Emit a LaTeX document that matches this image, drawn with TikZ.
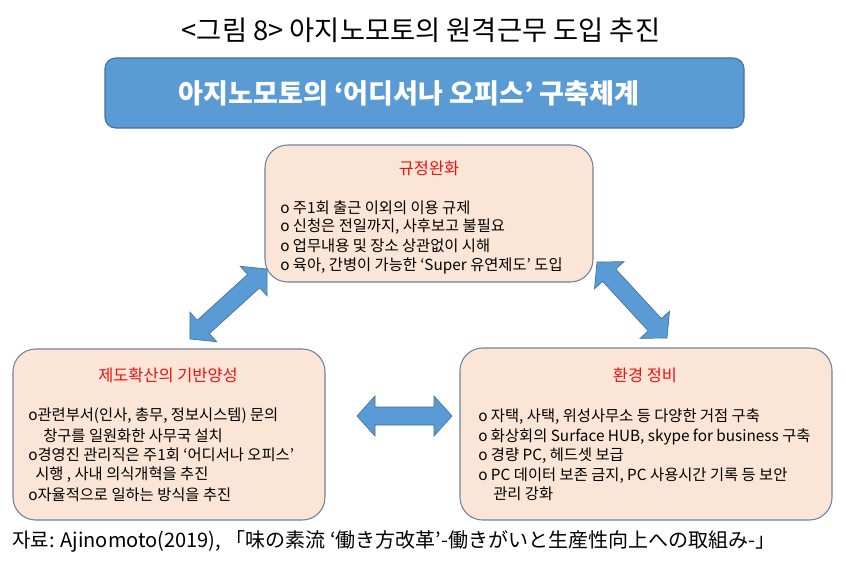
\documentclass[tikz,border=0pt]{standalone}
\usepackage{fontspec}
\setmainfont{Noto Sans CJK KR}
\usetikzlibrary{calc}
\definecolor{bannerfill}{HTML}{5B9BD5}
\definecolor{bannerline}{HTML}{41719C}
\definecolor{boxfill}{HTML}{FBE5D6}
\definecolor{boxline}{HTML}{72819C}
\definecolor{titlered}{HTML}{F01010}
\newcommand\blockarrow[2]{%
  \filldraw[fill=bannerfill,draw=bannerline,line width=0.5pt]
    (#1) -- ($(#1)!13.5pt!(#2)!15pt!90:(#2)$) -- ($(#1)!13.5pt!(#2)!6.75pt!90:(#2)$)
    -- ($(#2)!13.5pt!(#1)!6.75pt!-90:(#1)$) -- ($(#2)!13.5pt!(#1)!15pt!-90:(#1)$)
    -- (#2) -- ($(#2)!13.5pt!(#1)!15pt!90:(#1)$) -- ($(#2)!13.5pt!(#1)!6.75pt!90:(#1)$)
    -- ($(#1)!13.5pt!(#2)!6.75pt!-90:(#2)$) -- ($(#1)!13.5pt!(#2)!15pt!-90:(#2)$) -- cycle;}
\tikzset{
  roundbox/.style={draw=boxline, fill=boxfill, line width=0.8pt, rounded corners=17pt, inner sep=0pt},
  boxtitle/.style={text=titlered, font=\fontsize{12.3}{14}\selectfont, inner sep=0pt},
  itemline/.style={anchor=west, font=\fontsize{11.5}{13}\selectfont, inner sep=0pt},
}
\begin{document}
\begin{tikzpicture}[x=0.75pt,y=-0.75pt]
\useasboundingbox (0,0) rectangle (846,569);
\fill[white] (0,0) rectangle (846,569);
% title
\node[inner sep=0pt, font=\fontsize{20.5}{22}\selectfont] (title) at (421,30) {<그림 8> 아지노모토의 원격근무 도입 추진};
% banner
\node[draw=bannerline, fill=bannerfill, line width=0.8pt, rounded corners=8pt, minimum width=479.25pt, minimum height=52.5pt, inner sep=0pt] (banner) at (424.5,93) {};
\node[text=white, font=\fontsize{20.3}{22}\selectfont\bfseries, inner sep=0pt] (bannertext) at (409,93) {아지노모토의 ‘어디서나 오피스’ 구축체계};
% boxes
\node[roundbox, minimum width=246pt, minimum height=102.75pt] (top) at (429,213.5) {};
\node[roundbox, minimum width=234pt, minimum height=128.25pt] (left) at (169,434.5) {};
\node[roundbox, minimum width=279pt, minimum height=129pt] (right) at (646,434) {};
% top box text
\node[boxtitle] (toptitle) at (429,168) {규정완화};
\node[itemline] (t1) at (280,208) {o 주1회 출근 이외의 이용 규제};
\node[itemline] (t2) at (280,227) {o 신청은 전일까지, 사후보고 불필요};
\node[itemline] (t3) at (280,246) {o 업무내용 및 장소 상관없이 시해};
\node[itemline] (t4) at (280,266) {o 육아, 간병이 가능한 ‘Super 유연제도’ 도입};
% left box text
\node[boxtitle] (lefttitle) at (168,375) {제도확산의 기반양성};
\node[itemline] (l1) at (28,416) {o관련부서(인사, 총무, 정보시스템) 문의};
\node[itemline] (l2) at (43,436) {창구를 일원화한 사무국 설치};
\node[itemline] (l3) at (28,455) {o경영진 관리직은 주1회 ‘어디서나 오피스’};
\node[itemline] (l4) at (35,475) {시행 , 사내 의식개혁을 추진};
\node[itemline] (l5) at (28,495) {o자율적으로 일하는 방식을 추진};
% right box text
\node[boxtitle] (righttitle) at (645,375) {환경 정비};
\node[itemline] (r1) at (478,417) {o 자택, 사택, 위성사무소 등 다양한 거점 구축};
\node[itemline] (r2) at (478,437) {o 화상회의 Surface HUB, skype for business 구축};
\node[itemline] (r3) at (478,456) {o 경량 PC, 헤드셋 보급};
\node[itemline] (r4) at (478,476) {o PC 데이터 보존 금지, PC 사용시간 기록 등 보안};
\node[itemline] (r5) at (493,494) {관리 강화};
% arrows
\coordinate (la1) at (190,339);
\coordinate (la2) at (267,269);
\coordinate (ra1) at (597,262);
\coordinate (ra2) at (667,338);
\coordinate (ha1) at (357,416);
\coordinate (ha2) at (452,416);
\blockarrow{la1}{la2}
\blockarrow{ra1}{ra2}
\blockarrow{ha1}{ha2}
% footer
\node[anchor=west, inner sep=0pt, font=\fontsize{15}{17}\selectfont] (source) at (12,541) {자료: Ajinomoto(2019), 「味の素流 ‘働き方改革’-働きがいと生産性向上への取組み-」};
\end{tikzpicture}
\end{document}
